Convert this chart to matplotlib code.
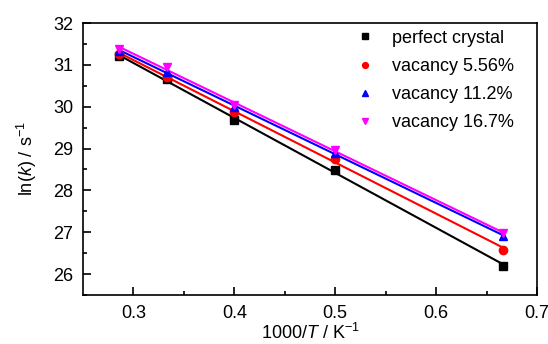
import numpy as np
import matplotlib
matplotlib.use("Agg")
import matplotlib.pyplot as plt

plt.rcParams['font.family'] = ['Liberation Sans', 'DejaVu Sans']
plt.rcParams['mathtext.fontset'] = 'custom'
plt.rcParams['mathtext.rm'] = 'Liberation Sans'
plt.rcParams['mathtext.it'] = 'Liberation Sans:italic'

# 1000/T values (T = 3500, 3000, 2500, 2000, 1500 K)
inv_t = [1000 / 3500, 1000 / 3000, 1000 / 2500, 1000 / 2000, 1000 / 1500]

perfect = [31.20, 30.65, 29.68, 28.49, 26.20]
vac_556 = [31.25, 30.72, 29.87, 28.76, 26.58]
vac_112 = [31.33, 30.84, 29.99, 28.90, 26.91]
vac_167 = [31.39, 30.96, 30.03, 28.97, 26.98]

labels = ["perfect crystal", "vacancy 5.56%", "vacancy 11.2%", "vacancy 16.7%"]
colors = ["black", "red", "blue", "magenta"]
markers = ["s", "o", "^", "v"]

fig = plt.figure(figsize=(5.48, 3.44), dpi=100)
ax = fig.add_axes([83 / 548, 49 / 344, 454 / 548, 272 / 344])

x = np.array(inv_t)
for ys, c, m, lab in zip([perfect, vac_556, vac_112, vac_167], colors, markers, labels):
    ys = np.array(ys)
    p = np.polyfit(x, ys, 1)
    ax.plot(x, np.polyval(p, x), color=c, lw=1.5, zorder=2)
    ax.plot(x, ys, ls="none", marker=m, color=c, ms=6, label=lab, zorder=3)

ax.set_xlim(0.25, 0.7)
ax.set_ylim(25.5, 32)
ax.set_xticks([0.3, 0.4, 0.5, 0.6, 0.7])
ax.set_xticklabels(["0.3", "0.4", "0.5", "0.6", "0.7"])
ax.set_yticks([26, 27, 28, 29, 30, 31, 32])
ax.set_xticks(np.arange(0.35, 0.7, 0.1), minor=True)
ax.set_yticks(np.arange(25.5, 32, 1.0), minor=True)
ax.tick_params(which="both", direction="in", labelsize=13, width=1.2)
ax.tick_params(which="major", length=6, pad=7)
ax.tick_params(which="minor", length=3)
for s in ax.spines.values():
    s.set_linewidth(1.2)

ax.set_xlabel("1000/$\\mathit{T}$ / K$^{-1}$", fontsize=13, labelpad=1)
ax.set_ylabel("ln($\\mathit{k}$) / s$^{-1}$", fontsize=13, labelpad=10)

ax.legend(loc="upper right", frameon=False, fontsize=13, markerscale=0.7,
          handlelength=1.0, handletextpad=1.0, labelspacing=0.62,
          bbox_to_anchor=(0.985, 1.035))

fig.savefig("out.png", dpi=100)
